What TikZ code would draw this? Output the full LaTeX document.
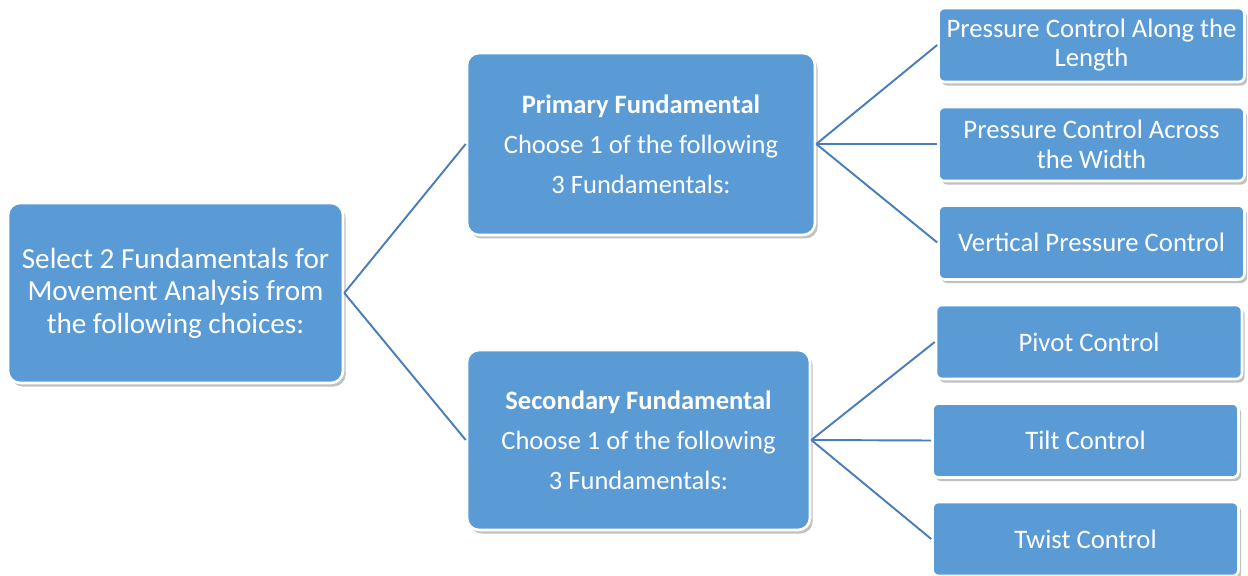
\documentclass[tikz,border=0pt]{standalone}
\usepackage{fontspec}
\setmainfont{Carlito}
\usetikzlibrary{shapes,shadows}
\definecolor{boxblue}{HTML}{5B9BD5}
\definecolor{linkblue}{HTML}{4A7EBB}

\begin{document}
\begin{tikzpicture}[x=0.02cm,y=-0.02cm]
	\tikzset{box/.style={draw=white,line width=1.5pt,fill=boxblue,text=white,align=center,inner sep=0pt,
		drop shadow={shadow xshift=1.5pt,shadow yshift=-2pt,opacity=0.35,fill=black!70}}}
	\tikzset{bigbox/.style={box,rounded corners=0.24cm}}
	\tikzset{leafbox/.style={box,rounded corners=0.12cm,minimum width=6.12cm,minimum height=1.48cm,
		font=\fontsize{15.2}{17}\selectfont}}
	\tikzset{link/.style={draw=linkblue,line width=1.1pt}}
	\useasboundingbox (0,0) rectangle (1248,575);
	% root and middle level
	\node[bigbox,minimum width=6.7cm,minimum height=3.6cm,font=\fontsize{16.6}{18.5}\selectfont] (root) at (175.5,293)
		{Select 2 Fundamentals for\\Movement Analysis from\\the following choices:};
	\node[bigbox,minimum width=6.96cm,minimum height=3.64cm,font=\fontsize{15.1}{22.8}\selectfont] (primary) at (641,144)
		{\textbf{Primary Fundamental}\\Choose 1 of the following\\3 Fundamentals:};
	\node[bigbox,minimum width=6.86cm,minimum height=3.6cm,font=\fontsize{15.1}{22.8}\selectfont] (secondary) at (638.5,440)
		{\textbf{Secondary Fundamental}\\Choose 1 of the following\\3 Fundamentals:};
	% leaves
	\node[leafbox] (lenctl) at (1091.5,45) {Pressure Control Along the\\Length};
	\node[leafbox] (widctl) at (1091.5,144) {Pressure Control Across\\the Width};
	\node[leafbox] (vertctl) at (1091.5,242.5) {Vertical Pressure Control};
	\node[leafbox] (pivctl) at (1089,342) {Pivot Control};
	\node[leafbox] (tiltctl) at (1085.5,440.5) {Tilt Control};
	\node[leafbox] (twistctl) at (1085.5,539) {Twist Control};
	% connectors
	\draw[link] (root.east) -- (primary.west);
	\draw[link] (root.east) -- (secondary.west);
	\foreach \leaf in {lenctl,widctl,vertctl}
		\draw[link] (primary.east) -- (\leaf.west);
	\foreach \leaf in {pivctl,tiltctl,twistctl}
		\draw[link] (secondary.east) -- (\leaf.west);
\end{tikzpicture}
\end{document}
